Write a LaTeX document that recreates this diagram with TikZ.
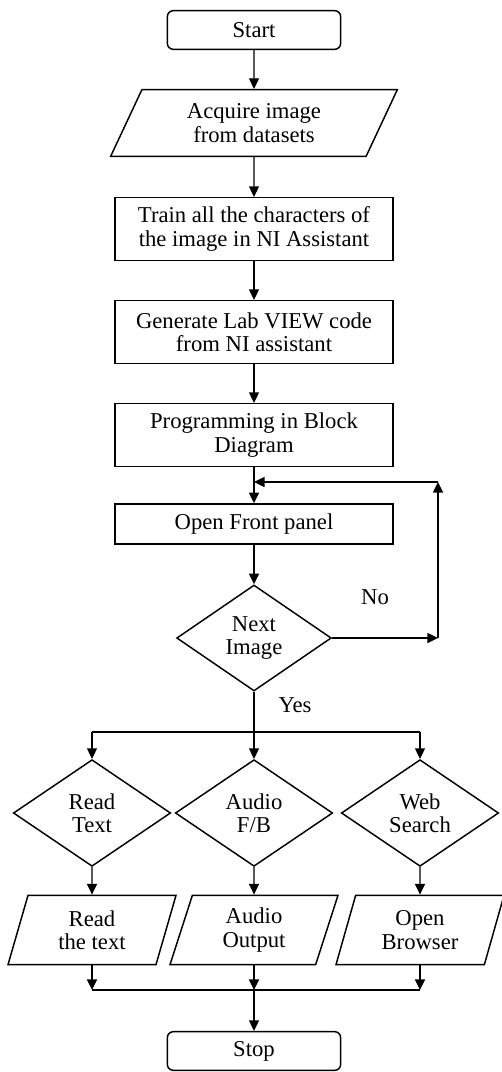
\documentclass[tikz,border=0pt]{standalone}
\usepackage{fontspec}
\setmainfont{Liberation Serif}
\usepackage{tikz}
\usetikzlibrary{positioning}
\usetikzlibrary{arrows.meta,shapes}
\usetikzlibrary{shapes.geometric}
\tikzstyle{term}=[rectangle,rounded corners=4.5pt,draw,minimum width=130pt,minimum height=29pt,inner sep=0pt]
\tikzstyle{proc}=[rectangle,draw,minimum width=208.5pt,minimum height=47pt,align=center,inner sep=0pt]
\tikzstyle{io}=[trapezium,trapezium left angle=51,trapezium right angle=129,trapezium stretches body,draw,minimum width=215pt,minimum height=50pt,align=center,inner sep=0pt]
\tikzstyle{smallio}=[io,trapezium left angle=63,trapezium right angle=117,minimum width=126pt,minimum height=52pt]
\tikzstyle{dec}=[diamond,draw,minimum width=116pt,minimum height=79.5pt,align=center,inner sep=0pt]
\tikzstyle{smalldec}=[dec,minimum width=118pt,minimum height=80pt]
\tikzset{arr/.style={-{Triangle[length=8pt,width=7.5pt]}}}

\begin{document}
\begin{tikzpicture}[x=0.75pt,y=-0.75pt,line width=1.1pt,
  every node/.style={font=\fontsize{17}{17.5}\selectfont}]

  \useasboundingbox (0,0) rectangle (501,1072);

  % main column
  \node[term] (start) at (254,30) {Start};
  \node[io] (acq) at (254,123) {Acquire image\\from datasets};
  \foreach \name/\y/\txt in {train/229/{Train all the characters of\\the image in NI Assistant},
                             gen/332/{Generate Lab VIEW code\\from NI assistant},
                             prog/435/{Programming in Block\\Diagram}}
    \node[proc] (\name) at (254,\y) {\txt};
  \node[proc,minimum height=30pt] (open) at (254,524) {Open Front panel};
  \node[dec] (next) at (254,638) {Next\\Image};

  % three branches
  \foreach \name/\x/\txt in {rt/92/{Read\\Text}, af/254/{Audio\\F/B}, ws/420/{Web\\Search}}
    \node[smalldec] (\name) at (\x,813) {\txt};
  \foreach \name/\x/\txt in {rtx/92/{Read\\the text}, ao/254/{Audio\\Output}, ob/420/{Open\\Browser}}
    \node[smallio] (\name) at (\x,930) {\txt};
  \node[term] (stop) at (254,1051) {Stop};

  \node (no) at (375,597) {No};
  \node (yes) at (295,705) {Yes};

  \coordinate (fbR) at (438,638);
  \coordinate (fbT) at (438,482);
  \coordinate (fbJ) at (254,482);
  \coordinate (split) at (254,732);
  \coordinate (splitL) at (92,732);
  \coordinate (splitR) at (420,732);
  \coordinate (join) at (254,990);
  \coordinate (joinL) at (92,990);
  \coordinate (joinR) at (420,990);

  \foreach \source/\dest in {start/acq, acq/train, train/gen, gen/prog, prog/open, open/next}
    \draw[arr] (\source) -- (\dest);

  % loop back on No
  \draw[arr] (next) -- (fbR);
  \draw[arr] (fbR) -- (fbT);
  \draw[arr] (fbT) -- (fbJ);

  % Yes
  \draw (next) -- (split);
  \draw (splitL) -- (splitR);
  \foreach \source/\dest in {splitL/rt, split/af, splitR/ws, rt/rtx, af/ao, ws/ob, rtx/joinL, ao/join, ob/joinR, join/stop}
    \draw[arr] (\source) -- (\dest);
  \draw (joinL) -- (joinR);

\end{tikzpicture}
\end{document}
